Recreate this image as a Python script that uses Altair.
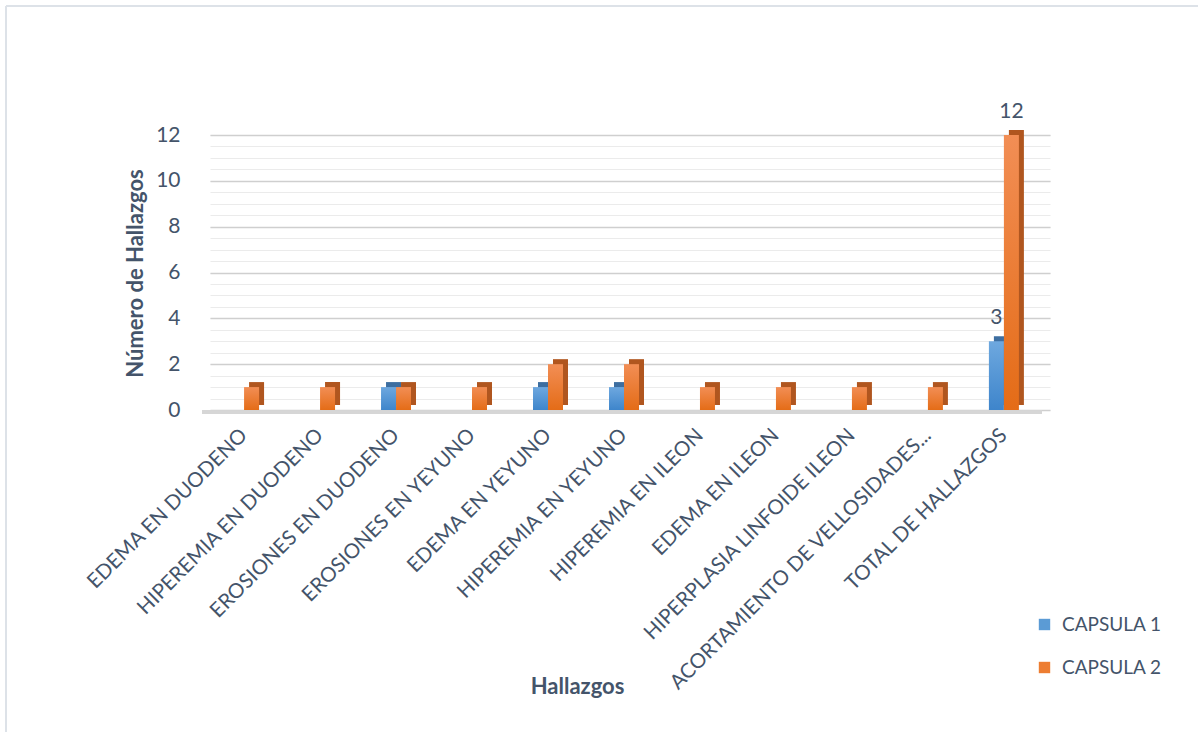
import altair as alt
import pandas as pd

categories = [
    "EDEMA EN DUODENO",
    "HIPEREMIA EN DUODENO",
    "EROSIONES EN DUODENO",
    "EROSIONES EN YEYUNO",
    "EDEMA EN YEYUNO",
    "HIPEREMIA EN YEYUNO",
    "HIPEREMIA EN ILEON",
    "EDEMA EN ILEON",
    "HIPERPLASIA LINFOIDE ILEON",
    "ACORTAMIENTO DE VELLOSIDADES...",
    "TOTAL DE HALLAZGOS",
]
capsula1 = [0, 0, 1, 0, 1, 1, 0, 0, 0, 0, 3]
capsula2 = [1, 1, 1, 1, 2, 2, 1, 1, 1, 1, 12]
series_names = ["CAPSULA 1", "CAPSULA 2"]
y_ticks = [0, 2, 4, 6, 8, 10, 12]
minor_ticks = [i * 0.5 for i in range(0, 25)]
label_category = "TOTAL DE HALLAZGOS"
label_c1 = [3]
label_c2 = [12]

FONT = "Lato"
TXT = "#44546A"
BLUE = "#5B9BD5"
ORANGE = "#ED7D31"
BLUE_SIDE = "#3D6EA0"
ORANGE_SIDE = "#B0561F"

df1 = pd.DataFrame({"cat": categories, "val": capsula1, "serie": series_names[0]})
df2 = pd.DataFrame({"cat": categories, "val": capsula2, "serie": series_names[1]})
dfall = pd.concat([df1, df2], ignore_index=True)
lab1 = pd.DataFrame({"cat": [label_category], "val": label_c1})
lab2 = pd.DataFrame({"cat": [label_category], "val": label_c2})

W, H = 840, 275
BW = 15
DEPTH = 5

xscale = alt.Scale(domain=categories, paddingInner=0.605, paddingOuter=0.33, align=0.38)
yscale = alt.Scale(domain=[0, 12], nice=False)
cscale = alt.Scale(domain=series_names, range=[BLUE, ORANGE])

x_enc = alt.X(
    "cat:N",
    scale=xscale,
    sort=categories,
    axis=alt.Axis(
        title="Hallazgos",
        labelAngle=-45,
        labelAlign="right",
        labelBaseline="middle",
        labelPadding=22,
        labelLimit=600,
        labelFont=FONT,
        labelFontSize=20.5,
        labelColor=TXT,
        ticks=False,
        domain=False,
        titleFont=FONT,
        titleFontSize=22,
        titleFontWeight="bold",
        titleColor=TXT,
        titleX=367,
        titleY=276,
        titleAlign="center",
        titleBaseline="middle",
    ),
)

y_main = alt.Y(
    "val:Q",
    scale=yscale,
    axis=alt.Axis(
        values=y_ticks,
        title="Número de Hallazgos",
        labelFont=FONT,
        labelFontSize=21,
        labelColor=TXT,
        labelPadding=30,
        ticks=False,
        domain=False,
        grid=True,
        gridColor="#CFCFCF",
        gridWidth=1.5,
        titleFont=FONT,
        titleFontSize=22,
        titleFontWeight="bold",
        titleColor=TXT,
        titleX=-75,
        titleY=138,
        titleAngle=-90,
        titleAlign="center",
        titleBaseline="middle",
    ),
)

y_minor = alt.Y(
    "val:Q",
    scale=yscale,
    axis=alt.Axis(
        values=minor_ticks,
        orient="right",
        labels=False,
        ticks=False,
        domain=False,
        title=None,
        grid=True,
        gridColor="#EBEBEB",
        gridWidth=1,
    ),
)

minor = alt.Chart(df2).mark_bar(opacity=0).encode(x=x_enc, y=y_minor)


def vgrad(top, bottom):
    return alt.Gradient(
        gradient="linear",
        stops=[alt.GradientStop(color=top, offset=0), alt.GradientStop(color=bottom, offset=1)],
        x1=0, x2=0, y1=0, y2=1,
    )


shadow1 = alt.Chart(df1).mark_bar(
    width=BW, xOffset=-BW / 2 + DEPTH, yOffset=-DEPTH, color=BLUE_SIDE
).encode(x=x_enc, y=y_main)
shadow2 = alt.Chart(df2).mark_bar(
    width=BW, xOffset=BW / 2 + DEPTH, yOffset=-DEPTH, color=ORANGE_SIDE
).encode(x=x_enc, y=y_main)

legend_layer = alt.Chart(dfall).mark_bar(opacity=0, width=1).encode(
    x=x_enc,
    y=y_main,
    color=alt.Color(
        "serie:N",
        scale=cscale,
        legend=alt.Legend(
            title=None,
            orient="none",
            legendX=825,
            legendY=480,
            symbolType="square",
            symbolSize=130,
            symbolStrokeWidth=0,
            symbolOpacity=1,
            labelFont=FONT,
            labelFontSize=19,
            labelColor=TXT,
            labelOffset=8,
            rowPadding=23,
        ),
    ),
)

bar1 = alt.Chart(df1).mark_bar(width=BW, xOffset=-BW / 2, fill=vgrad("#6EA8DF", "#3E85CB")).encode(x=x_enc, y=y_main)
bar2 = alt.Chart(df2).mark_bar(width=BW, xOffset=BW / 2, fill=vgrad("#F28E55", "#E46C17")).encode(x=x_enc, y=y_main)

text1 = alt.Chart(lab1).mark_text(
    font=FONT, fontSize=21, color=TXT, baseline="alphabetic", dy=-17, xOffset=-BW / 2
).encode(x=x_enc, y=y_main, text="val:Q")
text2 = alt.Chart(lab2).mark_text(
    font=FONT, fontSize=21, color=TXT, baseline="alphabetic", dy=-17, xOffset=BW / 2
).encode(x=x_enc, y=y_main, text="val:Q")

floor = alt.Chart(df1).mark_rule(color="#D6D6D6", strokeWidth=3).encode(
    x=alt.value(-8), x2=alt.value(W - 8), y=alt.value(H + 2)
)

border_top = alt.Chart(df1).mark_rule(color="#DDE2E8", strokeWidth=2).encode(
    x=alt.value(-204), x2=alt.value(990), y=alt.value(-129)
)
border_left = alt.Chart(df1).mark_rule(color="#DDE2E8", strokeWidth=2).encode(
    x=alt.value(-204), y=alt.value(-129), y2=alt.value(H + 330)
)

main = alt.layer(floor, legend_layer, shadow1, shadow2, bar1, bar2, text1, text2, border_top, border_left)

chart = (
    alt.layer(minor, main)
    .resolve_axis(y="independent")
    .properties(
        width=W,
        height=H,
        autosize=alt.AutoSizeParams(type="none"),
        padding={"left": 210, "top": 135, "right": 148, "bottom": 322},
        background="white",
    )
    .configure_view(stroke=None)
)

chart.save("out.html", embed_options={"renderer": "svg", "actions": False})
